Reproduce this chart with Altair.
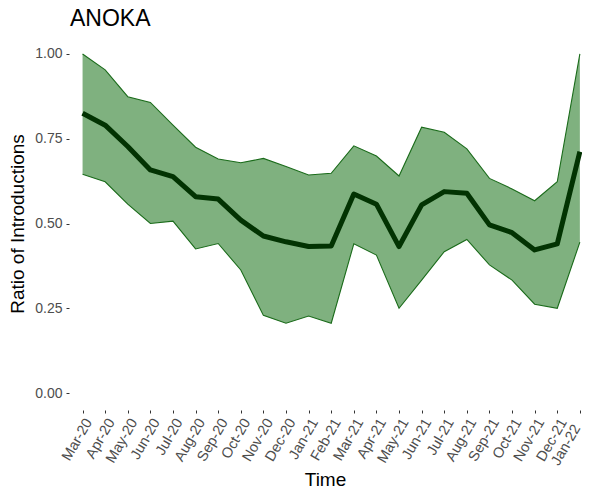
import altair as alt
import pandas as pd

title_text = "ANOKA"
months = ["Mar-20", "Apr-20", "May-20", "Jun-20", "Jul-20", "Aug-20", "Sep-20", "Oct-20",
          "Nov-20", "Dec-20", "Jan-21", "Feb-21", "Mar-21", "Apr-21", "May-21", "Jun-21",
          "Jul-21", "Aug-21", "Sep-21", "Oct-21", "Nov-21", "Dec-21", "Jan-22"]
median = [0.825, 0.79, 0.727, 0.658, 0.638, 0.579, 0.572, 0.51, 0.463, 0.446, 0.432, 0.434,
          0.587, 0.557, 0.432, 0.555, 0.594, 0.589, 0.496, 0.473, 0.422, 0.44, 0.712]
upper = [1.00, 0.953, 0.874, 0.857, 0.79, 0.725, 0.69, 0.679, 0.692, 0.668, 0.643, 0.648,
         0.729, 0.699, 0.640, 0.784, 0.769, 0.72, 0.633, 0.602, 0.567, 0.623, 1.00]
lower = [0.645, 0.623, 0.557, 0.50, 0.507, 0.425, 0.441, 0.363, 0.229, 0.206, 0.227, 0.206,
         0.44, 0.407, 0.25, 0.333, 0.417, 0.453, 0.378, 0.333, 0.262, 0.25, 0.445]
y_ticks = [0, 0.25, 0.5, 0.75, 1.0]

df = pd.DataFrame({"idx": list(range(len(months))), "month": months,
                   "median": median, "upper": upper, "lower": lower})

FONT = "Liberation Sans"
label_expr = "[" + ",".join("'%s'" % m for m in months) + "][datum.value]"
last_test = "datum.value == %d" % (len(months) - 1)

x_axis = alt.Axis(values=list(range(len(months))), labelExpr=label_expr,
                  labelAngle=-60, labelAlign="right", labelBaseline="top",
                  labelOffset={"condition": {"test": last_test, "value": -9}, "value": 0},
                  labelPadding={"condition": {"test": last_test, "value": 9}, "value": 3},
                  labelFontSize=14.5, labelColor="#4d4d4d",
                  labelOverlap=False, labelBound=False, labelFlush=False,
                  tickColor="#333333", tickSize=3, domain=False, grid=False,
                  title="Time", titleFontSize=19, titleFontWeight="normal",
                  titleColor="black", titlePadding=3, labelFont=FONT, titleFont=FONT)
x_scale = alt.Scale(domain=[-0.6, 22.05], nice=False, zero=False)
y_scale = alt.Scale(domain=[-0.05, 1.05], nice=False, zero=False)
y_axis = alt.Axis(values=y_ticks, format=".2f", labelFontSize=14,
                  labelColor="#4d4d4d", tickColor="#333333", tickSize=3, labelPadding=4,
                  labelOverlap=False,
                  domain=False, grid=False, title="Ratio of Introductions", titleFontSize=19,
                  titleFontWeight="normal", titleColor="black", titlePadding=7,
                  labelFont=FONT, titleFont=FONT)


def X():
    return alt.X("idx:Q", scale=x_scale, axis=x_axis)


def Y(field):
    return alt.Y(field, type="quantitative", scale=y_scale, axis=y_axis)


base = alt.Chart(df)
band = base.mark_area(color="#006400", opacity=0.5).encode(
    x=X(), y=Y("lower"), y2="upper:Q")
up_line = base.mark_line(color="#1a6b1a", strokeWidth=1.1).encode(x=X(), y=Y("upper"))
lo_line = base.mark_line(color="#1a6b1a", strokeWidth=1.1).encode(x=X(), y=Y("lower"))
med_line = base.mark_line(color="#023302", strokeWidth=5, strokeJoin="round").encode(
    x=X(), y=Y("median"))

title_mark = alt.Chart(alt.Data(values=[{"t": title_text}])).mark_text(
    align="left", baseline="alphabetic", fontSize=23, font=FONT, color="black"
).encode(text="t:N", x=alt.value(1), y=alt.value(-11))

chart = alt.layer(band, up_line, lo_line, med_line, title_mark).properties(
    width=512, height=373,
    padding={"left": 61, "top": 29, "right": 1, "bottom": 79},
    autosize="none",
).configure_view(stroke=None)

chart.save("out.html", embed_options={"renderer": "svg", "actions": False})
